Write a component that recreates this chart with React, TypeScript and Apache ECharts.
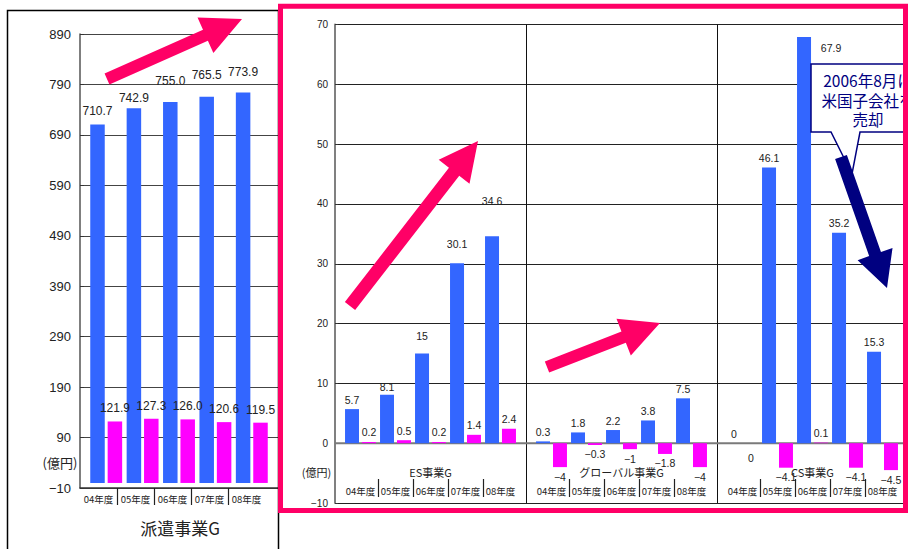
import React, { useEffect, useRef } from 'react';
import * as echarts from 'echarts';

// ---- data ----
const years = ['04年度', '05年度', '06年度', '07年度', '08年度'];

// 派遣事業G（億円）
const dispatchSales = [710.7, 742.9, 755.0, 765.5, 773.9];
const dispatchProfit = [121.9, 127.3, 126.0, 120.6, 119.5];

// その他事業（億円）
const groups = ['ES事業G', 'グローバル事業G', 'CS事業G'];
const esSales = [5.7, 8.1, 15, 30.1, 34.6];
const esProfit = [0.2, 0.5, 0.2, 1.4, 2.4];
const globalSales = [0.3, 1.8, 2.2, 3.8, 7.5];
const globalProfit = [-4, -0.3, -1, -1.8, -4];
const csSales = [0, 46.1, 67.9, 35.2, 15.3];
const csProfit = [0, -4.1, 0.1, -4.1, -4.5];

const leftScale = { min: -10, max: 890, interval: 100 };
const rightScale = { min: -10, max: 70, interval: 10 };
const yearBoundaries = [1, 2, 3, 4];

// ---- styles ----
const BLUE = '#3366FF';
const MAGENTA = '#FF00FF';
const PINK = '#FF0066';
const NAVY = '#000080';
const TEXT = '#222222';
const NUM = "'Liberation Sans', Arial, sans-serif";
const JP = "'Noto Sans CJK JP', 'Noto Sans', sans-serif";

const RIGHT_LEFT = 335;
const RIGHT_WIDTH = 573;

type Off = [number, number];
// individual label nudges (pixels)
const leftSalesLabelOffsets: Record<number, Off> = { 1: [0, 3], 2: [0, -8], 3: [0, -9], 4: [0, -8] };
const esSalesLabelOffsets: Record<number, Off> = { 1: [0, 2], 2: [0, -8], 3: [0, -10], 4: [0, -26] };
const csSalesLabelOffsets: Record<number, Off> = { 2: [27, 20] };
const csProfitLabelOffsets: Record<number, Off> = { 0: [0, 5] };

const minus = (v: number) => (v < 0 ? '\u2212' + Math.abs(v) : String(v));

const items = (vals: number[], zeroBelow: boolean, offsets: Record<number, Off> = {}) =>
  vals.map((v, i) => ({
    value: v,
    label: {
      position: v < 0 || (v === 0 && zeroBelow) ? 'bottom' : 'top',
      offset: offsets[i] || [0, 0],
    },
  }));

// arrow outline from tail centre (x1,y1) to tip (x2,y2)
function arrow(x1: number, y1: number, x2: number, y2: number, shaft: number, headLen: number, headW: number) {
  const dx = x2 - x1;
  const dy = y2 - y1;
  const L = Math.hypot(dx, dy);
  const ux = dx / L;
  const uy = dy / L;
  const nx = -uy;
  const ny = ux;
  const bx = x2 - ux * headLen;
  const by = y2 - uy * headLen;
  const s = shaft / 2;
  const h = headW / 2;
  return [
    [x1 + nx * s, y1 + ny * s],
    [bx + nx * s, by + ny * s],
    [bx + nx * h, by + ny * h],
    [x2, y2],
    [bx - nx * h, by - ny * h],
    [bx - nx * s, by - ny * s],
    [x1 - nx * s, y1 - ny * s],
  ];
}

const txt = (
  text: string,
  x: number,
  y: number,
  fontSize: number,
  fontFamily: string,
  fill = TEXT,
  z = 60,
  lineHeight?: number
) => ({
  type: 'text',
  x,
  y,
  z,
  style: {
    text,
    fontSize,
    fontFamily,
    fill,
    lineHeight: lineHeight ?? Math.round(fontSize * 1.3),
    align: 'center',
    verticalAlign: 'middle',
    textAlign: 'center',
    textVerticalAlign: 'middle',
  },
});

const hiddenY = (gridIndex: number, s: typeof leftScale) => ({
  gridIndex,
  type: 'value',
  min: s.min,
  max: s.max,
  interval: s.interval,
  show: false,
});

const panelLefts = [343, 534, 725];
const panelSales = [esSales, globalSales, csSales];
const panelProfit = [esProfit, globalProfit, csProfit];
const panelSalesOffsets = [esSalesLabelOffsets, {}, csSalesLabelOffsets];
const panelProfitOffsets = [{}, {}, csProfitLabelOffsets];

const rightLabel = {
  show: true,
  formatter: (p: any) => minus(p.value),
  fontSize: 10.5,
  fontFamily: NUM,
  color: TEXT,
  distance: 4,
};

const leftLabel = {
  show: true,
  formatter: (p: any) => Number(p.value).toFixed(1),
  fontSize: 12,
  fontFamily: NUM,
  color: TEXT,
  distance: 7,
};

function buildOption() {
  const grid: any[] = [
    { left: 80, top: 34, width: 198, height: 454 },
    { left: 88, top: 34, width: 182, height: 454 },
    { left: 80, top: 34, width: 185, height: 454 },
    { left: RIGHT_LEFT, top: 24.5, width: RIGHT_WIDTH, height: 478.5 },
    ...panelLefts.map((left) => ({ left, top: 24.5, width: 175, height: 478.5 })),
  ].map((g) => ({ ...g, outerBoundsMode: 'none', containLabel: false }));

  const xAxis: any[] = [
    {
      gridIndex: 0,
      type: 'category',
      data: years,
      axisLine: { onZero: false, lineStyle: { color: '#333', width: 1.5 } },
      axisTick: { show: false },
      axisLabel: { show: false },
    },
    { gridIndex: 1, type: 'category', data: years, show: false },
    {
      gridIndex: 2,
      type: 'category',
      data: years,
      axisLine: { show: false, onZero: false },
      axisTick: { show: false },
      axisLabel: { interval: 0, margin: 6, fontSize: 9.5, fontFamily: JP, color: TEXT },
    },
    {
      gridIndex: 2,
      type: 'value',
      min: 0,
      max: 5,
      position: 'bottom',
      axisLine: { show: false, onZero: false },
      axisTick: { show: true, customValues: yearBoundaries, length: 17, lineStyle: { color: '#222', width: 1.2 } },
      axisLabel: { show: false },
      splitLine: { show: false },
    },
    {
      gridIndex: 3,
      type: 'category',
      data: groups,
      axisLine: { show: false, onZero: false },
      axisTick: { show: false },
      splitLine: { show: true, interval: 0, lineStyle: { color: '#111', width: 1 } },
      axisLabel: { interval: 0, inside: true, margin: 25.5, fontSize: 11, fontFamily: JP, color: TEXT },
    },
  ];
  panelLefts.forEach((_, p) => {
    xAxis.push({
      gridIndex: 4 + p,
      type: 'category',
      data: years,
      offset: -6,
      axisLine: { show: false, onZero: false },
      axisTick: { show: false },
      axisLabel: { interval: 0, inside: true, margin: 1, fontSize: 9.5, fontFamily: JP, color: TEXT },
    });
    xAxis.push({
      gridIndex: 4 + p,
      type: 'value',
      min: 0,
      max: 5,
      position: 'bottom',
      offset: -6,
      axisLine: { show: false, onZero: false },
      axisTick: { show: true, inside: true, customValues: yearBoundaries, length: 18, lineStyle: { color: '#222', width: 1.2 } },
      axisLabel: { show: false },
      splitLine: { show: false },
    });
  });

  const yAxis: any[] = [
    {
      gridIndex: 0,
      type: 'value',
      ...leftScale,
      axisLine: { show: true, onZero: false, lineStyle: { color: '#555', width: 1.5 } },
      axisTick: { show: true, inside: true, length: 4, lineStyle: { color: '#333' } },
      axisLabel: { formatter: minus, fontSize: 13, fontFamily: NUM, color: TEXT, margin: 9 },
      splitLine: { show: true, lineStyle: { color: '#444', width: 1 } },
    },
    hiddenY(1, leftScale),
    hiddenY(2, leftScale),
    {
      gridIndex: 3,
      type: 'value',
      ...rightScale,
      axisLine: { show: true, onZero: false, lineStyle: { color: '#808080', width: 2 } },
      axisTick: { show: true, inside: true, length: 3, lineStyle: { color: '#333' } },
      axisLabel: { formatter: minus, fontSize: 10, fontFamily: NUM, color: TEXT, margin: 7 },
      splitLine: { show: true, lineStyle: { color: '#222', width: 1 } },
    },
    hiddenY(4, rightScale),
    hiddenY(5, rightScale),
    hiddenY(6, rightScale),
  ];

  const series: any[] = [
    {
      type: 'bar',
      xAxisIndex: 1,
      yAxisIndex: 1,
      data: items(dispatchSales, false, leftSalesLabelOffsets),
      barWidth: 14.5,
      barGap: '20%',
      itemStyle: { color: BLUE },
      label: leftLabel,
    },
    {
      type: 'bar',
      xAxisIndex: 1,
      yAxisIndex: 1,
      data: items(dispatchProfit, true),
      barWidth: 14.5,
      barGap: '20%',
      itemStyle: { color: MAGENTA },
      label: leftLabel,
    },
  ];
  panelLefts.forEach((_, p) => {
    series.push({
      type: 'bar',
      xAxisIndex: 5 + 2 * p,
      yAxisIndex: 4 + p,
      data: items(panelSales[p], false, panelSalesOffsets[p]),
      barWidth: 14,
      barGap: '21%',
      itemStyle: { color: BLUE },
      label: rightLabel,
    });
    series.push({
      type: 'bar',
      xAxisIndex: 5 + 2 * p,
      yAxisIndex: 4 + p,
      data: items(panelProfit[p], true, panelProfitOffsets[p]),
      barWidth: 14,
      barGap: '21%',
      itemStyle: { color: MAGENTA },
      label: rightLabel,
    });
  });

  const graphic: any[] = [
    // left panel frame
    {
      type: 'rect',
      z: 40,
      shape: { x: 7.5, y: 10.5, width: 271, height: 600 },
      style: { fill: 'none', stroke: '#000', lineWidth: 1.5 },
    },
    txt('派遣事業G', 180, 527, 17, JP),
    txt('(億円)', 60, 462, 13, JP),
    txt('(億円)', 316.5, 472, 11, JP),
    // growth arrows
    { type: 'polygon', z: 100, shape: { points: arrow(107, 79, 242, 19, 12, 40, 39) }, style: { fill: PINK } },
    { type: 'polygon', z: 100, shape: { points: arrow(350, 306, 478, 141, 13, 39, 39) }, style: { fill: PINK } },
    { type: 'polygon', z: 100, shape: { points: arrow(547, 367, 660, 323, 12, 39, 39.5) }, style: { fill: PINK } },
    // callout
    {
      type: 'polygon',
      z: 90,
      shape: {
        points: [
          [811, 64],
          [930, 64],
          [930, 132],
          [860, 132],
          [852, 174],
          [831, 132],
          [811, 132],
        ],
      },
      style: { fill: '#fff', stroke: NAVY, lineWidth: 1.5 },
    },
    txt('2006年8月に', 868, 80, 15.5, JP, NAVY, 91, 16),
    txt('米国子会社を', 868, 99.5, 15.5, JP, NAVY, 91, 16),
    txt('売却', 868, 119, 15.5, JP, NAVY, 91, 16),
    { type: 'polygon', z: 95, shape: { points: arrow(841, 157, 887, 288, 12.5, 36, 37) }, style: { fill: NAVY } },
    // highlight frame
    {
      type: 'rect',
      z: 110,
      shape: { x: 280.5, y: 6.3, width: 625, height: 504.2 },
      style: { fill: 'none', stroke: PINK, lineWidth: 5 },
    },
  ];

  return {
    animation: false,
    backgroundColor: '#fff',
    grid,
    xAxis,
    yAxis,
    series,
    graphic,
  };
}

export default function App() {
  const ref = useRef<HTMLDivElement>(null);
  useEffect(() => {
    if (!ref.current) return;
    const chart = echarts.init(ref.current, undefined, { renderer: 'svg' });
    const option: any = buildOption();
    chart.setOption(option);
    // zero baseline of the right-hand panels, placed through the value axis
    const y0 = chart.convertToPixel({ yAxisIndex: 3 }, 0) as number;
    const zeroLine = {
      type: 'line',
      z: 1,
      shape: { x1: RIGHT_LEFT, y1: y0, x2: RIGHT_LEFT + RIGHT_WIDTH, y2: y0 },
      style: { stroke: '#7a7a7a', lineWidth: 2 },
    };
    chart.setOption({ ...option, graphic: [...option.graphic, zeroLine] }, true);
    return () => chart.dispose();
  }, []);
  return (
    <div
      ref={ref}
      style={{ position: 'absolute', left: 0, top: 0, width: 908, height: 549, background: '#fff' }}
    />
  );
}
